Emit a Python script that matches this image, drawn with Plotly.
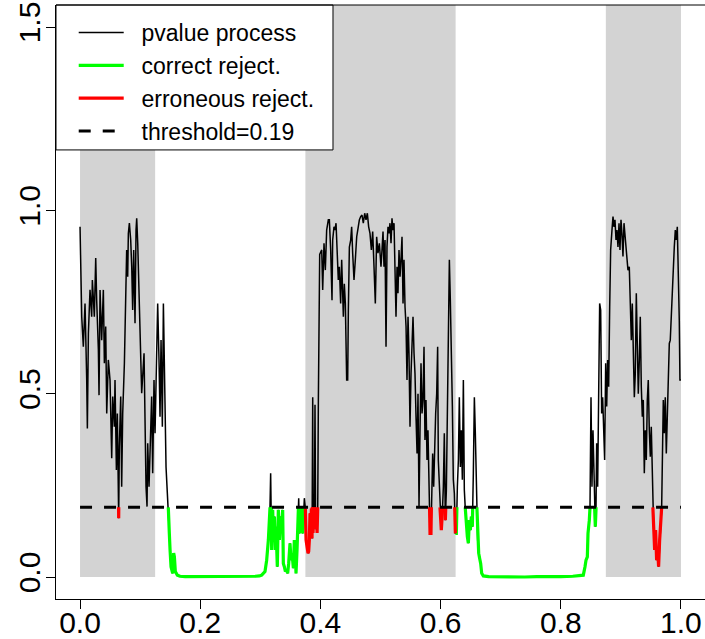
import plotly.graph_objects as go

threshold = 0.19
null_starts = [0.0, 0.375, 0.875]
null_ends = [0.125, 0.625, 1.0]
x_ticks = [0.0, 0.2, 0.4, 0.6, 0.8, 1.0]
y_ticks = [0.0, 0.5, 1.0, 1.5]

# pvalue process as (t, p) pairs
seg_a = [(0, .955), (.0028, .71), (.0055, .628), (.0083, .746), (.0111, .537), (.0122, .405),
         (.0139, .665), (.0166, .783), (.0194, .71), (.0205, .81), (.0238, .71), (.0261, .87),
         (.0277, .755), (.0305, .62), (.0316, .496), (.0333, .783), (.036, .646), (.0388, .783),
         (.0405, .583), (.0427, .683), (.0444, .446), (.0471, .592), (.0499, .537), (.0527, .324),
         (.0544, .492), (.0571, .41), (.0582, .537), (.0605, .292), (.0621, .446), (.0638, .274),
         (.0643, .16), (.0654, .355), (.0677, .492), (.0693, .246), (.071, .446), (.0738, .583),
         (.076, .81), (.0776, .892), (.0793, .819), (.0804, .937), (.0821, .965), (.0843, .919),
         (.086, .846), (.0876, .728), (.0893, .892), (.0915, .692), (.0932, .946), (.0943, .978),
         (.096, .91), (.0982, .755), (.0998, .628), (.1026, .501), (.1065, .61), (.1082, .405),
         (.1098, .246), (.1115, .192), (.1126, .365), (.1148, .246), (.117, .41), (.1192, .492),
         (.1209, .283), (.1231, .537), (.1248, .392), (.1276, .665), (.1292, .746), (.1314, .592),
         (.1331, .437), (.1348, .646), (.137, .41), (.1387, .746), (.1403, .537), (.1431, .30),
         (.1453, .228), (.147, .187), (.1486, .119), (.1498, .074), (.1514, .028), (.1542, .01),
         (.1558, .065), (.157, .055), (.1586, .015), (.162, .005), (.1664, .002)]

seg_b = [(.175, .001), (.185, .001), (.20, .0), (.22, .001), (.24, .0), (.26, .001), (.28, .001),
         (.292, .002), (.2985, .003), (.3023, .005), (.3078, .015), (.3106, .046), (.3134, .101),
         (.315, .165), (.3161, .187), (.3172, .283), (.3184, .18), (.3189, .074), (.3206, .183),
         (.3217, .11), (.3234, .165), (.325, .074), (.3261, .137), (.3283, .028), (.33, .183),
         (.3317, .101), (.3339, .165), (.3356, .137), (.3372, .183), (.3383, .037), (.34, .028),
         (.3417, .015), (.3439, .019), (.3455, .01), (.3472, .037), (.3494, .092), (.3511, .046),
         (.3528, .065), (.355, .024), (.3566, .101), (.3583, .065), (.3594, .01), (.3611, .074),
         (.3622, .128), (.3639, .215), (.365, .119), (.3666, .183), (.3677, .137), (.3689, .187),
         (.3705, .119), (.3722, .183), (.3733, .215)]

seg_c = [(.375, .187), (.3761, .101), (.3777, .083), (.3794, .065), (.3805, .07), (.3816, .101),
         (.3827, .174), (.3838, .128), (.385, .187), (.3861, .105), (.3872, .49), (.3877, .12),
         (.3888, .16), (.3899, .17), (.391, .47), (.3921, .13), (.3932, .17), (.3945, .12),
         (.3955, .18), (.3966, .48), (.3977, .62), (.3988, .88), (.4022, .892), (.4038, .783),
         (.406, .91), (.4082, .837), (.4104, .946), (.4132, .974), (.4149, .974), (.4171, .892),
         (.4193, .755), (.4204, .919), (.4226, .955), (.4243, .946), (.426, .965), (.4282, .892),
         (.4298, .81), (.4315, .846), (.4337, .746), (.4354, .865), (.4371, .755), (.4382, .71),
         (.4398, .80), (.4415, .746), (.4437, .537), (.4454, .537), (.4465, .728), (.4482, .90),
         (.4504, .919), (.452, .955), (.4537, .883), (.4559, .81), (.4581, .865), (.4604, .928),
         (.4626, .951), (.4648, .974), (.467, .983), (.4692, .987), (.4714, .965), (.4737, .992),
         (.4759, .974), (.4781, .992), (.4803, .955), (.4825, .937), (.4848, .892), (.487, .942),
         (.4892, .846), (.4914, .746), (.4936, .928), (.4958, .883), (.4981, .91)]

seg_d = [(.5008, .846), (.5025, .892), (.5042, .942), (.5058, .846), (.5075, .919), (.5092, .628),
         (.5108, .90), (.5125, .955), (.5142, .937), (.5158, .965), (.5175, .91), (.5191, .978),
         (.5208, .946), (.5225, .965), (.5241, .865), (.5258, .71), (.5275, .846), (.5291, .774),
         (.5308, .892), (.5325, .819), (.5341, .865), (.5358, .928), (.5375, .746), (.5391, .865),
         (.5408, .737), (.5425, .683), (.5441, .537), (.5458, .71), (.5474, .61), (.5491, .41),
         (.5508, .555), (.5524, .665), (.5541, .71), (.5558, .61), (.5574, .555), (.5591, .437),
         (.5608, .337), (.5624, .50), (.5641, .192), (.5657, .392), (.5674, .583), (.5691, .446),
         (.5707, .483), (.5724, .628), (.574, .374), (.5757, .483), (.5774, .319), (.579, .40),
         (.5807, .274), (.5824, .119), (.584, .119), (.5852, .246), (.5868, .337), (.5885, .246),
         (.5901, .392), (.5918, .446), (.5935, .50), (.5951, .628), (.5962, .319), (.5979, .246),
         (.5996, .155), (.6012, .128), (.6029, .174), (.6046, .246), (.6062, .392), (.6079, .155),
         (.6096, .237), (.6112, .428), (.6129, .646), (.6146, .865), (.6162, .755), (.6179, .646),
         (.6196, .465), (.6212, .265), (.6229, .228), (.6246, .119), (.6262, .119), (.6279, .246),
         (.6296, .319), (.6312, .49), (.6329, .30), (.6345, .40), (.6362, .265), (.6379, .537),
         (.6395, .237), (.6412, .183), (.6428, .155), (.6445, .11), (.6462, .092), (.6478, .155),
         (.6495, .128), (.6512, .165), (.6528, .137), (.6545, .283), (.6562, .49), (.6578, .392),
         (.6595, .228), (.6606, .183), (.6617, .10), (.6634, .065), (.6651, .05), (.6667, .037),
         (.6684, .01), (.6711, .003)]

seg_e = [(.68, .001), (.70, .0), (.72, .001), (.74, .0), (.76, .001), (.78, .0), (.80, .001),
         (.82, .002), (.8375, .005), (.8403, .028), (.842, .046), (.8442, .055), (.8453, .119),
         (.8475, .155), (.8486, .183), (.8503, .49), (.8519, .246), (.8536, .40), (.8553, .255),
         (.8564, .183), (.8575, .137), (.8586, .183), (.8597, .365), (.8614, .246), (.863, .446),
         (.8647, .746), (.8664, .728), (.868, .446), (.8697, .49), (.8714, .40), (.873, .319),
         (.8747, .583), (.8764, .465), (.878, .592), (.8797, .519), (.8814, .737), (.883, .892),
         (.8852, .946), (.8869, .983), (.8886, .955), (.8902, .974), (.8919, .919), (.8935, .946),
         (.8952, .90), (.8969, .965), (.8985, .892), (.9002, .974), (.9018, .937), (.9035, .874),
         (.9052, .965), (.9068, .937), (.9085, .91), (.9101, .883), (.9118, .837), (.914, .846),
         (.9157, .737), (.9174, .646), (.919, .746), (.9207, .592), (.9224, .49), (.924, .555),
         (.9257, .774), (.9273, .637), (.929, .50), (.9307, .592), (.9323, .71), (.934, .519),
         (.9357, .437), (.9373, .483), (.939, .283), (.9406, .40), (.9423, .319), (.944, .483),
         (.9456, .537), (.9473, .40), (.949, .328), (.9506, .41), (.9523, .237), (.9534, .183),
         (.9545, .137), (.9562, .074), (.9578, .128), (.9595, .046), (.9612, .074), (.9628, .028),
         (.9645, .10), (.9662, .137), (.9678, .183), (.9689, .283), (.9706, .483), (.9723, .392),
         (.9739, .49), (.9756, .337), (.9773, .428), (.9789, .555), (.9806, .637), (.9822, .646),
         (.9839, .719), (.9856, .774), (.9872, .846), (.9889, .90), (.9906, .946), (.9922, .919),
         (.9939, .955), (.9956, .846), (.9972, .70), (.9983, .537), (1.0, .537)]

pts = seg_a + seg_b + seg_c + seg_d + seg_e
t = [p[0] for p in pts]
pv = [p[1] for p in pts]


def in_null(x):
    return any(s <= x <= e for s, e in zip(null_starts, null_ends))


# rejected parts of the process (below threshold), split by truth
green_x, green_y, red_x, red_y = [], [], [], []
for i in range(len(t) - 1):
    x0, y0, x1, y1 = t[i], pv[i], t[i + 1], pv[i + 1]
    if y0 > threshold and y1 > threshold:
        continue
    if y0 > threshold:
        xa = x0 + (threshold - y0) / (y1 - y0) * (x1 - x0)
        ya = threshold
    else:
        xa, ya = x0, y0
    if y1 > threshold:
        xb = x0 + (threshold - y0) / (y1 - y0) * (x1 - x0)
        yb = threshold
    else:
        xb, yb = x1, y1
    if in_null((xa + xb) / 2):
        xs, ys = red_x, red_y
    else:
        xs, ys = green_x, green_y
    if xs and xs[-1] == xa and ys[-1] == ya:
        xs.append(xb)
        ys.append(yb)
    else:
        if xs:
            xs.append(None)
            ys.append(None)
        xs += [xa, xb]
        ys += [ya, yb]

pad = "\u00a0\u00a0"
fig = go.Figure()
fig.add_trace(go.Scatter(x=t, y=pv, mode="lines", name=pad + "pvalue process",
                         line=dict(color="black", width=1.5)))
fig.add_trace(go.Scatter(x=green_x, y=green_y, mode="lines", name=pad + "correct reject.",
                         line=dict(color="#00FF00", width=3.2)))
fig.add_trace(go.Scatter(x=red_x, y=red_y, mode="lines", name=pad + "erroneous reject.",
                         line=dict(color="#FF0000", width=3.2)))
fig.add_trace(go.Scatter(x=[min(t), max(t)], y=[threshold, threshold], mode="lines",
                         name=pad + "threshold=%.2f" % threshold,
                         line=dict(color="black", width=3, dash="12px,12px")))

y_top = 1.56
shapes = []
for s, e in zip(null_starts, null_ends):
    shapes.append(dict(type="rect", xref="x", yref="y", x0=s, x1=e, y0=0, y1=y_top,
                       fillcolor="#D3D3D3", line=dict(width=0), layer="below"))
# legend box
shapes.append(dict(type="rect", xref="paper", yref="paper", x0=0, x1=0.4268, y0=0.756, y1=1,
                   fillcolor="white", line=dict(color="black", width=1), layer="above"))
# top frame line
shapes.append(dict(type="line", xref="paper", yref="paper", x0=0, x1=1, y0=1, y1=1,
                   line=dict(color="black", width=1)))

fig.update_layout(
    width=705, height=639,
    margin=dict(l=56, r=0, t=5, b=40, pad=0, autoexpand=False),
    paper_bgcolor="white", plot_bgcolor="white",
    font=dict(family="Liberation Sans, Arial, sans-serif", color="black"),
    shapes=shapes,
    showlegend=True,
    legend=dict(x=0.0273, y=0.99, xanchor="left", yanchor="top",
                bgcolor="rgba(0,0,0,0)", borderwidth=0,
                font=dict(size=23), itemwidth=45, tracegroupgap=0),
    xaxis=dict(range=[-0.04, 1.04], tickvals=x_ticks,
               ticktext=["%.1f" % v for v in x_ticks],
               showline=True, linecolor="black", linewidth=1, mirror=False,
               ticks="outside", ticklen=9, tickcolor="black", tickwidth=1,
               ticklabelstandoff=-12, automargin=False,
               showgrid=False, zeroline=False, tickfont=dict(size=30)),
    yaxis=dict(range=[-0.06, y_top], tickvals=y_ticks,
               ticktext=["%.1f" % v for v in y_ticks],
               showline=True, linecolor="black", linewidth=1,
               ticks="outside", ticklen=9, tickcolor="black", tickwidth=1,
               tickangle=-90, ticklabelstandoff=-6, automargin=False,
               showgrid=False, zeroline=False, tickfont=dict(size=30)),
)

fig.write_html("out.html", config={"displayModeBar": False},
               post_script="document.body.style.margin='0';")
